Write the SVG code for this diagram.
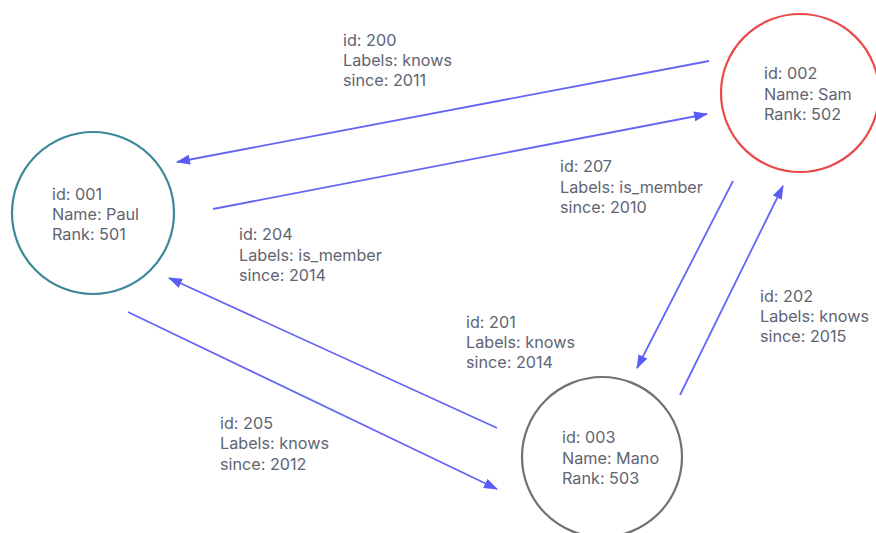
<svg xmlns="http://www.w3.org/2000/svg" width="876" height="533" viewBox="0 0 876 533">
<defs>
<marker id="arr" viewBox="0 0 14 10" refX="13" refY="5" markerWidth="14" markerHeight="10" markerUnits="userSpaceOnUse" orient="auto">
<path d="M0,0 L14,5 L0,10 Z" fill="#5a5cf6"/>
</marker>
<style>
text{font-family:Inter,"Liberation Sans",sans-serif;font-size:16.2px;fill:#5f6472}
.node{fill:#fff;stroke-width:2.2}
.e{stroke:#6466f6;stroke-width:1.8;fill:none;marker-end:url(#arr)}
</style>
</defs>
<rect width="876" height="533" fill="#fff"/>
<g id="connectors">
<line class="e" x1="709" y1="61" x2="177" y2="162"/>
<line class="e" x1="213" y1="209" x2="707" y2="114"/>
<line class="e" x1="733" y1="181" x2="637" y2="368"/>
<line class="e" x1="680" y1="395" x2="783" y2="186"/>
<line class="e" x1="497" y1="428" x2="169" y2="278"/>
<line class="e" x1="128" y1="312" x2="497" y2="489"/>
</g>
<g id="node-paul">
<circle class="node" cx="93" cy="213" r="81" stroke="#3a8899"/>
<text x="52" y="200">id: 001</text>
<text x="52" y="220">Name: Paul</text>
<text x="52" y="240">Rank: 501</text>
</g>
<g id="node-sam">
<circle class="node" cx="800" cy="93" r="79" stroke="#e84a4a"/>
<text x="764" y="79">id: 002</text>
<text x="764" y="100">Name: Sam</text>
<text x="764" y="120">Rank: 502</text>
</g>
<g id="node-mano">
<circle class="node" cx="602" cy="457" r="80" stroke="#707075"/>
<text x="562" y="443">id: 003</text>
<text x="562" y="464">Name: Mano</text>
<text x="562" y="484">Rank: 503</text>
</g>
<g id="labels">
<text x="343" y="46">id: 200</text>
<text x="343" y="66">Labels: knows</text>
<text x="343" y="86">since: 2011</text>
<text x="560" y="172">id: 207</text>
<text x="560" y="193">Labels: is_member</text>
<text x="560" y="213">since: 2010</text>
<text x="239" y="240">id: 204</text>
<text x="239" y="261">Labels: is_member</text>
<text x="239" y="281">since: 2014</text>
<text x="466" y="328">id: 201</text>
<text x="466" y="348">Labels: knows</text>
<text x="466" y="368">since: 2014</text>
<text x="760" y="302">id: 202</text>
<text x="760" y="322">Labels: knows</text>
<text x="760" y="342">since: 2015</text>
<text x="220" y="429">id: 205</text>
<text x="220" y="449">Labels: knows</text>
<text x="220" y="470">since: 2012</text>
</g>
</svg>
